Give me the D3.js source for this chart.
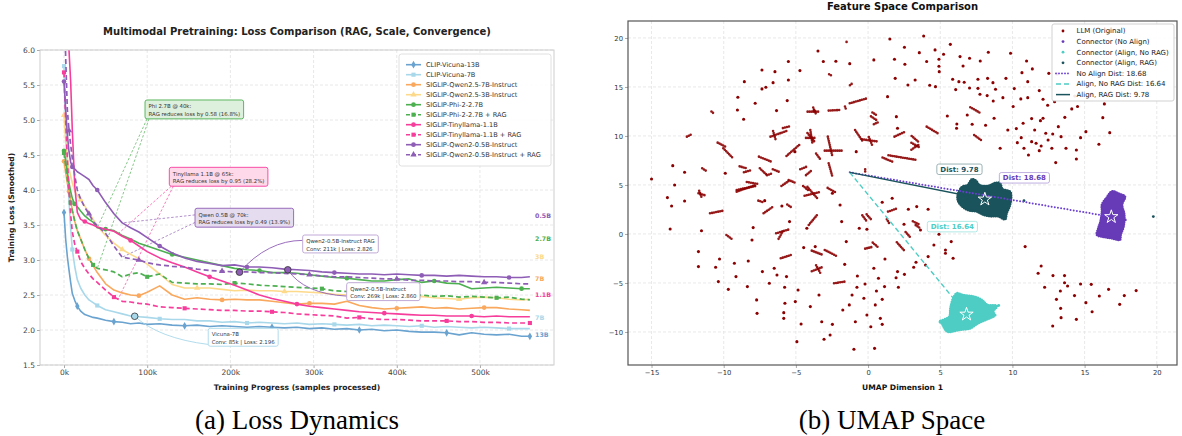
<!DOCTYPE html>
<html><head><meta charset="utf-8">
<script src="https://cdn.jsdelivr.net/npm/d3@7/dist/d3.min.js"></script>
<style>
body{margin:0;background:#fff;}
svg{display:block;font-family:"DejaVu Sans",Verdana,sans-serif;}
</style></head><body>
<svg id="chart" width="1182" height="436" viewBox="0 0 1182 436"></svg>
<script>
// ================= DATA: left panel (loss curves) =================
const kSteps = [0,2,4,6,8,10,13,16,20,25,30,35,40,50,60,70,80,90,100,115,130,145,160,175,190,205,220,235,250,265,280,295,310,325,340,355,370,385,400,415,430,445,460,475,490,505,520,535,550,560];
const vicuna13B = [3.68,3.3,3.05,2.86,2.68,2.52,2.42,2.34,2.27,2.22,2.2,2.18,2.17,2.14,2.12,2.11,2.09,2.1,2.08,2.09,2.07,2.06,2.07,2.05,2.06,2.05,2.04,2.05,2.04,2.03,2.04,2.02,2.03,2.01,2.02,2.0,2.01,1.99,2.0,1.98,1.97,1.97,1.96,1.93,1.96,1.94,1.93,1.94,1.91,1.91];
const vicuna7B = [5.77,4.91,4.3,3.85,3.45,3.15,2.9,2.72,2.6,2.5,2.43,2.39,2.35,2.29,2.26,2.23,2.2,2.19,2.18,2.16,2.15,2.15,2.13,2.13,2.11,2.12,2.1,2.11,2.1,2.09,2.1,2.08,2.09,2.08,2.07,2.08,2.06,2.07,2.06,2.05,2.06,2.04,2.05,2.04,2.03,2.04,2.03,2.02,2.02,2.02];
const qwen25_7B = [4.41,4.25,4.1,3.98,3.85,3.72,3.55,3.42,3.3,3.15,3.02,2.92,2.82,2.66,2.57,2.53,2.5,2.49,2.54,2.63,2.5,2.44,2.46,2.44,2.43,2.44,2.43,2.43,2.41,2.39,2.37,2.38,2.38,2.37,2.41,2.35,2.32,2.3,2.31,2.32,2.33,2.31,2.32,2.3,2.31,2.32,2.32,2.3,2.29,2.28];
const qwen25_3B = [5.07,4.7,4.45,4.3,4.2,4.1,3.98,3.92,3.86,3.77,3.68,3.58,3.48,3.35,3.24,3.15,3.08,3.02,2.94,2.8,2.65,2.6,2.6,2.6,2.58,2.56,2.57,2.56,2.56,2.55,2.55,2.54,2.53,2.51,2.5,2.48,2.47,2.47,2.46,2.47,2.48,2.46,2.45,2.44,2.46,2.47,2.46,2.44,2.43,2.44];
const phi27B = [4.56,4.42,4.25,4.1,3.98,3.88,3.8,3.76,3.7,3.63,3.58,3.54,3.46,3.44,3.42,3.35,3.3,3.24,3.2,3.14,3.08,3.04,3.0,2.96,2.92,2.88,2.86,2.85,2.82,2.82,2.81,2.79,2.77,2.75,2.74,2.72,2.7,2.7,2.72,2.73,2.68,2.7,2.67,2.66,2.59,2.6,2.61,2.6,2.59,2.59];
const phi27B_RAG = [4.53,4.35,4.15,3.98,3.82,3.7,3.55,3.42,3.3,3.15,3.02,2.93,2.88,2.86,2.83,2.76,2.8,2.82,2.76,2.8,2.68,2.67,2.66,2.66,2.65,2.67,2.66,2.64,2.63,2.62,2.61,2.6,2.59,2.56,2.55,2.55,2.53,2.51,2.5,2.49,2.5,2.48,2.49,2.47,2.48,2.47,2.46,2.47,2.44,2.43];
const tiny11B = [7.2,6.8,6.3,6.0,5.55,4.85,4.05,3.68,3.58,3.55,3.52,3.5,3.47,3.44,3.41,3.34,3.28,3.2,3.12,3.03,2.96,2.9,2.83,2.76,2.7,2.64,2.57,2.5,2.45,2.41,2.37,2.34,2.32,2.3,2.28,2.26,2.25,2.24,2.23,2.22,2.21,2.21,2.2,2.2,2.2,2.19,2.2,2.19,2.19,2.19];
const tiny11B_RAG = [5.68,5.0,4.45,4.0,3.65,3.4,3.22,3.12,2.98,2.88,2.8,2.73,2.68,2.57,2.47,2.41,2.4,2.38,2.37,2.33,2.32,2.31,2.3,2.29,2.28,2.28,2.27,2.27,2.26,2.25,2.23,2.22,2.21,2.2,2.17,2.18,2.16,2.15,2.15,2.14,2.13,2.13,2.13,2.12,2.12,2.11,2.11,2.1,2.1,2.1];
const qwen2_05B = [5.55,5.15,4.8,4.55,4.4,4.33,4.3,4.26,4.23,4.19,4.15,4.06,4.0,3.82,3.66,3.53,3.46,3.4,3.32,3.2,3.1,3.03,2.98,2.95,2.92,2.93,2.9,2.9,2.89,2.87,2.86,2.85,2.83,2.82,2.81,2.8,2.8,2.79,2.8,2.79,2.78,2.78,2.77,2.78,2.77,2.76,2.76,2.75,2.75,2.76];
const qwen2_05B_RAG = [6.9,5.9,5.15,4.85,4.65,4.45,4.2,4.0,3.87,3.75,3.66,3.55,3.49,3.38,3.2,3.04,3.02,3.0,2.96,2.93,2.91,2.9,2.87,2.85,2.84,2.83,2.83,2.82,2.82,2.81,2.8,2.79,2.77,2.76,2.76,2.75,2.74,2.73,2.73,2.71,2.71,2.7,2.7,2.69,2.69,2.68,2.68,2.67,2.66,2.66];
const seriesNames = ["CLIP-Vicuna-13B","CLIP-Vicuna-7B","SIGLIP-Qwen2.5-7B-Instruct","SIGLIP-Qwen2.5-3B-Instruct","SIGLIP-Phi-2-2.7B","SIGLIP-Phi-2-2.7B + RAG","SIGLIP-Tinyllama-1.1B","SIGLIP-Tinyllama-1.1B + RAG","SIGLIP-Qwen2-0.5B-Instruct","SIGLIP-Qwen2-0.5B-Instruct + RAG"];
const seriesValues = [vicuna13B,vicuna7B,qwen25_7B,qwen25_3B,phi27B,phi27B_RAG,tiny11B,tiny11B_RAG,qwen2_05B,qwen2_05B_RAG];
const endLabels = ["0.5B","2.7B","3B","7B","1.1B","7B","13B"];
const endLabelValues = [3.63,3.31,3.04,2.73,2.5,2.17,1.93];
const endLabelSeries = [8,4,3,2,6,1,0];
const xTickValues = [0,100,200,300,400,500];
const yTickValues = [1.5,2.0,2.5,3.0,3.5,4.0,4.5,5.0,5.5,6.0];
const gapTitles = ["Phi 2.7B @ 40k:","Tinyllama 1.1B @ 65k:","Qwen 0.5B @ 70k:"];
const gapTexts = ["RAG reduces loss by 0.58 (16.8%)","RAG reduces loss by 0.95 (28.2%)","RAG reduces loss by 0.49 (13.9%)"];
const gapSteps = [40,65,70];
const gapBase = [3.46,3.375,3.53];
const gapRag = [2.88,2.44,3.04];
const gapSeries = [4,6,8];
const convNames = ["Qwen2-0.5B-Instruct RAG","Qwen2-0.5B-Instruct","Vicuna-7B"];
const convSteps = [211,269,85];
const convLoss = [2.826,2.860,2.196];
const convSeries = [9,8,1];

// ================= DATA: right panel (UMAP) =================
const llmPoints = [[3.85,20.2],[1.51,19.9],[5.7,19.35],[2.52,19.05],[-3.47,18.67],[4.64,18.78],[3.55,18.5],[5.23,18.33],[8.33,18.54],[9.87,18.44],[6.37,18.1],[7.03,17.93],[4.91,17.82],[4.06,17.59],[1.83,17.82],[-5.52,17.59],[-3.1,17.59],[-2.23,17.62],[-1.27,17.38],[0.4,17.76],[2.55,17.31],[7.77,17.65],[10.98,17.65],[10.66,16.46],[4.91,17.11],[6.58,17.14],[4.93,16.56],[-4.72,16.67],[-6.45,16.56],[-7.35,16.73],[1.88,15.88],[3.26,15.71],[2.76,15.2],[4.27,15.17],[4.67,15.03],[5.86,15.78],[6.29,15.54],[6.66,15.48],[7.61,15.78],[8.28,15.88],[8.65,15.44],[9.55,15.88],[10.13,14.83],[11.06,15.54],[11.86,14.63],[12.52,16.39],[13.1,16.33],[11.38,16.84],[7.03,14.9],[6.07,14.73],[7.61,14.86],[8.83,14.76],[7.75,14.25],[8.25,14.12],[9.34,13.91],[8.67,13.57],[10.05,13.0],[10.58,13.78],[11.06,13.91],[12.12,13.74],[12.44,13.13],[12.92,13.5],[14.32,14.08],[14.51,13.0],[14.11,12.76],[15.49,14.29],[16.37,13.27],[15.09,10.44],[16.26,11.87],[15.99,9.15],[16.74,10.34],[13.63,11.9],[12.12,11.8],[11.33,11.77],[10.74,11.29],[11.94,11.56],[13.18,10.95],[12.79,10.2],[12.31,10.27],[11.54,10.61],[10.61,9.83],[11.33,9.42],[10.34,9.32],[10.8,8.74],[11.64,9.25],[11.99,8.98],[12.47,9.59],[13.37,9.93],[12.73,8.74],[13.71,8.74],[13.0,7.28],[14.43,8.57],[14.72,9.83],[14.43,7.65],[11.11,8.06],[11.86,8.5],[10.27,10.75],[9.68,10.61],[9.15,8.74],[8.14,11.09],[8.73,11.8],[7.21,11.19],[6.87,12.14],[6.13,10.78],[5.49,12.04],[6.15,11.22],[1.96,11.97],[1.35,14.01],[2.04,10.78],[-0.82,8.4],[-15.0,5.61],[-13.53,6.97],[-13.4,5.0],[-12.71,6.29],[-9.02,13.95],[-9.05,12.65],[-8.57,15.54],[-8.62,11.7],[-7.82,13.33],[-7.35,14.8],[-7.08,14.97],[-6.58,15.44],[-6.34,12.59],[-5.52,15.71],[-5.6,13.61],[-9.89,6.19],[-5.07,8.4],[-3.74,12.6],
[-13.9,3.71],[-13.61,2.86],[-12.71,3.37],[-13.71,0.51],[-11.54,0.33],[-11.75,-1.8],[-11.75,-3.33],[-10.56,-3.4],[-10.29,-2.55],[-10.37,-4.86],[-9.68,-5.65],[-9.26,-2.99],[-9.15,-4.35],[-7.96,0.65],[-8.04,-0.61],[-8.3,-2.76],[-8.36,-5.37],[-7.69,-8.1],[-7.72,-6.73],[-7.32,-3.84],[-7.16,3.4],[-6.84,-5.03],[-6.5,-3.5],[-6.31,-4.18],[-5.97,2.86],[-5.76,-7.07],[-5.84,-8.03],[-5.84,-8.61],[-5.78,-5.44],[-5.65,-4.35],[-5.44,1.26],[-5.04,-6.9],[-4.93,-10.99],[-4.85,-5.71],[-4.64,-9.18],[-4.0,-7.41],[-4.46,-1.39],[-4.24,0.58],[-3.66,-1.29],[-3.4,-6.22],[-3.21,-8.95],[-3.05,-10.75],[-2.63,-10.31],[-2.47,4.15],[-2.47,-9.22],[-1.94,2.96],[-1.83,1.26],[-1.75,-7.76],[-1.62,-3.1],[-1.51,-0.78],[-1.3,-7.24],[-1.11,-6.22],[-0.98,-11.77],[-0.88,-8.95],[-0.77,-5.44],[-0.74,-4.29],[-0.61,0.58],[-0.29,-6.56],[-0.21,-5.1],[-0.08,0.48],[-0.08,-8.27],[0.19,-9.46],[0.4,-3.5],[0.5,-7.24],[0.58,-5.82],[0.45,-11.67],[0.72,-4.52],[0.85,-8.61],[0.98,-9.22],[0.98,-6.67],[1.14,-5.37],[1.17,-2.55],[0.98,3.23],[1.67,3.64],[1.94,-4.46],[2.04,-3.84],[2.1,-5.44],[2.49,0.99],[2.52,-4.12],[2.79,2.52],[3.16,-3.4],[3.32,-2.89],[3.37,2.79],[3.63,0.41],[3.98,-3.16],[4.16,2.52],[4.56,-1.12],[4.16,-2.31],[5.36,-1.63],[5.36,-1.97],[5.76,-0.78],[5.89,-2.48],[4.91,-0.03],[10.88,-1.29],[11.78,-4.01],[11.99,-3.27],[12.23,-5.44],[12.81,-4.25],[13.05,-6.67],[13.32,-5.82],[13.34,-7.59],[13.37,-8.54],[12.79,-9.39],[13.61,-4.25],[13.61,-4.97],[13.82,-5.31],[14.3,-6.29],[14.43,-8.71],[14.72,-5.1],[15.09,-7.01],[15.46,-5.14],[15.52,-7.93],[16.02,-6.33],[16.66,-5.65],[17.43,-7.18],[17.75,-6.29],[18.57,-5.78]];
const llmStrands = [[-1.49,19.6,-1.59,19.75],[-2.7,16.3,-2.45,16.1],[-1.14,15.31,-1.33,15.1],[7.08,12.93,7.82,12.31],[7.35,10.1,7.88,9.52],[4.06,10.95,4.83,10.27],[3.02,10.0,3.55,9.32],[3.0,9.3,3.6,8.8],[3.0,8.6,3.5,9.1],[1.41,8.03,3.37,7.55],[1.0,7.8,1.8,7.3],[1.83,9.93,2.57,10.44],[0.05,9.9,0.3,9.0],[-0.42,9.66,0.72,9.42],[0.4,11.2,0.7,11.4],[0.3,12.4,0.6,12.1],[-0.2,6.6,-0.2,6.3],[-12.55,9.93,-12.23,10.17],[-10.85,12.5,-10.7,12.3],[-10.42,9.32,-9.89,8.91],[-10.03,8.74,-9.42,7.82],[-11.49,6.7,-11.14,6.36],[-9.1,4.32,-7.77,5.0],[-7.56,7.89,-6.71,7.38],[-7.5,6.7,-7.0,6.0],[-7.0,6.0,-6.6,6.2],[-6.6,6.6,-6.1,6.3],[-6.58,10.5,-6.4,9.6],[-6.76,9.93,-5.65,10.51],[-5.9,10.8,-5.4,11.0],[-5.65,7.96,-4.72,9.15],[-4.3,9.8,-3.6,9.8],[-4.0,10.6,-3.85,9.2],[-4.2,10.3,-3.7,9.4],[-3.6,8.2,-3.3,7.6],[-2.79,9.93,-2.47,7.89],[-3.0,8.5,-1.7,8.5],[-2.73,7.21,-2.47,5.85],[-4.19,12.48,-3.4,12.48],[-3.8,12.9,-3.6,12.2],[-2.73,12.59,-1.94,12.65],[-1.6,13.0,-1.5,12.6],[-1.27,13.33,-0.08,13.84],[0.2,12.0,0.6,11.6],[-0.9,10.6,-0.4,9.5],[-4.7,6.6,-4.2,6.9],[-5.5,5.5,-5.0,5.2],[-4.3,6.0,-3.9,6.5],[-8.9,6.9,-8.4,6.7],[-8.6,6.3,-8.1,6.5],[-6.0,4.9,-5.4,5.5],
[-11.75,4.15,-11.22,3.91],[-11.7,4.4,-11.5,3.6],[-10.95,2.11,-10.03,2.38],[-9.81,-0.1,-9.42,-0.54],[-9.1,4.49,-7.77,4.9],[-8.4,5.3,-7.6,5.1],[-7.6,3.4,-7.2,3.2],[-7.24,2.11,-6.58,2.79],[-6.37,0.07,-5.44,0.48],[-6.2,-0.5,-5.9,0.3],[-6.05,-2.48,-5.33,-2.14],[-5.6,3.0,-5.3,2.7],[-4.5,4.9,-4.1,4.4],[-4.4,3.9,-3.3,4.3],[-4.2,4.8,-3.5,3.6],[-4.11,0.92,-3.47,2.04],[-3.9,-1.7,-3.2,-2.1],[-3.6,-3.2,-3.3,-4.0],[-3.9,-3.8,-3.2,-3.4],[-3.0,-1.63,-2.2,-2.24],[-2.36,-5.03,-1.62,-4.86],[-2.8,4.7,-2.2,4.2],[-0.4,1.9,-0.1,1.3],[-0.1,2.0,0.2,1.5],[0.32,-0.88,0.72,-1.39],[-0.2,-1.5,0.35,-1.3],[1.38,2.28,2.04,2.62],[1.3,1.5,1.5,1.0],[1.99,-0.85,2.57,-1.8],[2.6,0.2,2.9,-0.3],[3.1,1.3,3.5,1.0],[3.3,0.9,3.6,0.6]];
const alignRagOutline = [[6.5,4.8],[6.9,5.0],[7.2,5.6],[7.5,5.4],[7.7,5.0],[8.3,4.9],[8.8,5.2],[9.15,5.2],[9.3,4.6],[9.85,4.3],[9.9,3.5],[9.8,2.8],[9.6,2.1],[9.5,1.5],[9.0,1.8],[8.5,1.8],[8.0,1.95],[7.5,2.3],[7.0,2.4],[6.6,2.7],[6.25,3.3],[6.2,3.9]];
const alignNoRagOutline = [[6.15,-6.05],[6.55,-6.22],[7.35,-6.39],[7.88,-6.73],[8.28,-7.24],[8.94,-7.35],[8.67,-7.93],[8.81,-8.27],[8.14,-8.78],[7.61,-9.12],[7.08,-9.63],[6.29,-9.8],[5.49,-9.97],[5.09,-9.12],[4.96,-8.95],[5.62,-8.44],[5.7,-7.59],[5.89,-6.56]];
const noAlignOutline = [[16.9,4.35],[17.4,4.1],[17.8,3.8],[17.6,3.0],[17.75,2.0],[17.7,0.75],[17.5,-0.1],[17.45,-0.6],[16.9,-0.45],[16.3,-0.3],[15.85,-0.1],[15.95,0.6],[16.1,1.3],[16.2,2.3],[16.2,3.0],[16.5,3.65]];
const alignRagExtra = [[10.8,3.4],[19.76,1.77]];
const noAlignExtra = [[17.82,1.43]];
const alignNoRagExtra = [[5.0,-8.9],[9.05,-7.3],[6.1,-7.0]];
const llmCentroid = [-1.27,6.29];
const clusterCentroids = [[16.85,1.75],[6.82,-8.2],[8.09,3.54]]; // No Align, Align No RAG, Align RAG
const distValues = [18.68,16.64,9.78];
const umapLegend = ["LLM (Original)","Connector (No Align)","Connector (Align, No RAG)","Connector (Align, RAG)","No Align Dist: 18.68","Align, No RAG Dist: 16.64","Align, RAG Dist: 9.78"];
const umapXTicks = [-15,-10,-5,0,5,10,15,20];
const umapYTicks = [-10,-5,0,5,10,15,20];

// ================= STYLES / LAYOUT =================
const colors = ["#6aa3cf","#a8d8ea","#f9a85d","#fdd98b","#4caf50","#4caf50","#f63d9c","#f63d9c","#8e5db5","#8e5db5"];
const dashed = [false,false,false,false,false,true,false,true,false,true];
const symbols = [d3.symbolDiamond,d3.symbolSquare,d3.symbolCircle,d3.symbolTriangle,d3.symbolCircle,d3.symbolSquare,d3.symbolCircle,d3.symbolSquare,d3.symbolCircle,d3.symbolTriangle];
const FONT = "DejaVu Sans";
const svg = d3.select("#chart");

// ---------- LEFT PANEL ----------
const PL = {l:40, r:554, t:50, b:365};
const xL = d3.scaleLinear().domain([-28.85,589]).range([PL.l,PL.r]);
const yL = d3.scaleLinear().domain([1.5,6]).range([PL.b,PL.t]);
const left = svg.append("g");
svg.append("defs").append("clipPath").attr("id","clipL").append("rect")
  .attr("x",PL.l).attr("y",PL.t).attr("width",PL.r-PL.l).attr("height",PL.b-PL.t);

left.append("g").selectAll("line").data(xTickValues).join("line")
  .attr("x1",d=>xL(d)).attr("x2",d=>xL(d)).attr("y1",PL.t).attr("y2",PL.b)
  .attr("stroke","#e2e2e2").attr("stroke-width",0.8).attr("stroke-dasharray","3,2");
left.append("g").selectAll("line").data(yTickValues).join("line")
  .attr("y1",d=>yL(d)).attr("y2",d=>yL(d)).attr("x1",PL.l).attr("x2",PL.r)
  .attr("stroke","#e2e2e2").attr("stroke-width",0.8).attr("stroke-dasharray","3,2");

function styleAxis(g,fs,col){
  g.attr("font-family",FONT).attr("font-size",fs);
  g.select(".domain").remove();
  g.selectAll(".tick line").attr("stroke","#aaa");
  g.selectAll(".tick text").attr("fill",col);
}
left.append("g").attr("transform",`translate(0,${PL.b})`)
  .call(d3.axisBottom(xL).tickValues(xTickValues).tickFormat(d=>d+"k").tickSize(3).tickPadding(2))
  .call(g=>styleAxis(g,7.5,"#444"));
left.append("g").attr("transform",`translate(${PL.l},0)`)
  .call(d3.axisLeft(yL).tickValues(yTickValues).tickFormat(d3.format(".1f")).tickSize(3).tickPadding(2))
  .call(g=>styleAxis(g,7.5,"#444"));

const gapLayout = [{bx:97.4,bv:5.286},{bx:126.6,bv:4.324},{bx:157.5,bv:3.739}];
const noteFont = 5.4, noteLH = 7.7;
const gapG = left.append("g");
function measure(txt,fs,weight){
  const t = svg.append("text").attr("font-family",FONT).attr("font-size",fs).attr("font-weight",weight||"normal").text(txt);
  const w = t.node().getComputedTextLength(); t.remove(); return w;
}
const lineFn = d3.line().x((d,i)=>xL(kSteps[i])).y(d=>yL(d));
const linesG = left.append("g").attr("clip-path","url(#clipL)");

gapTitles.forEach((title,i)=>{
  const c = colors[gapSeries[i]];
  const bx = xL(gapLayout[i].bx), by = yL(gapLayout[i].bv);
  const w = Math.max(measure(title,noteFont),measure(gapTexts[i],noteFont)) + 7;
  const h = 2*noteLH + 3.5;
  const sx = i<2 ? bx+2 : bx, sy = i<2 ? by+h : by+h*0.35;
  const sy2 = i<2 ? by+h : by+h*0.75;
  [[gapBase[i],sx,sy],[gapRag[i],sx+(i<2?2:0),sy2]].forEach(([v,x0,y0])=>{
    gapG.append("line").attr("x1",x0).attr("y1",y0).attr("x2",xL(gapSteps[i])).attr("y2",yL(v))
      .attr("stroke",c).attr("stroke-width",0.8).attr("stroke-dasharray","2.5,1.8").attr("opacity",0.85);
  });
  gapLayout[i].w=w; gapLayout[i].h=h;
});

seriesValues.forEach((vals,s)=>{
  linesG.append("path").datum(vals).attr("d",lineFn).attr("fill","none")
    .attr("stroke",colors[s]).attr("stroke-width",dashed[s]?1.7:1.6)
    .attr("stroke-dasharray",dashed[s]?"5,3":null).attr("stroke-linejoin","round");
  const marks = vals.map((v,i)=>[i,v]).filter(([i])=> i===0 || (i>2 && (i+s*2)%7===0));
  linesG.selectAll(null).data(marks).join("path")
    .attr("transform",([i,v])=>`translate(${xL(kSteps[i])},${yL(v)})`)
    .attr("d",d3.symbol().type(symbols[s]).size(17)).attr("fill",colors[s]);
});

const gapFill = ["#dcf0dd","#fdd9ea","#e6dcef"];
gapTitles.forEach((title,i)=>{
  const c = colors[gapSeries[i]];
  const bx = xL(gapLayout[i].bx), by = yL(gapLayout[i].bv);
  const g = left.append("g");
  g.append("rect").attr("x",bx).attr("y",by).attr("width",gapLayout[i].w).attr("height",gapLayout[i].h)
    .attr("rx",2).attr("fill",gapFill[i]).attr("stroke",c).attr("stroke-width",0.9);
  [title,gapTexts[i]].forEach((t,j)=>{
    g.append("text").attr("x",bx+3.5).attr("y",by+2+noteLH*(j+1)-1.4).attr("font-size",noteFont)
      .attr("font-family",FONT).attr("fill","#333").text(t);
  });
});

const convLayout = [{bx:286.9,bv:3.357},{bx:339.8,bv:2.676},{bx:173.4,bv:2.024}];
const convBorder = ["#b9a0d2","#b9a0d2","#a8d8ea"];
convNames.forEach((name,i)=>{
  const c = colors[convSeries[i]];
  const px = xL(convSteps[i]), py = yL(convLoss[i]);
  const t2 = `Conv: ${convSteps[i]}k | Loss: ${convLoss[i].toFixed(3)}`;
  const w = Math.max(measure(name,noteFont),measure(t2,noteFont)) + 7;
  const h = 2*noteLH + 2.5;
  const bx = xL(convLayout[i].bx), by = yL(convLayout[i].bv);
  const p = d3.path();
  if(i===0){ p.moveTo(bx,by+h*0.3); p.quadraticCurveTo(bx-35,by+h*0.3,px,py); }
  else if(i===1){ p.moveTo(px,py); p.quadraticCurveTo(px+16,py+24,bx,by+h*0.75); }
  else { p.moveTo(px,py); p.quadraticCurveTo(px+24,py+22,bx,by+h*0.9); }
  left.append("path").attr("d",p.toString()).attr("fill","none").attr("stroke",c).attr("stroke-width",0.9);
  left.append("circle").attr("cx",px).attr("cy",py).attr("r",3.3).attr("fill",c).attr("stroke","#333").attr("stroke-width",0.8);
  left.append("rect").attr("x",bx).attr("y",by).attr("width",w).attr("height",h).attr("rx",2)
    .attr("fill","#fff").attr("stroke",convBorder[i]).attr("stroke-width",0.9);
  [name,t2].forEach((t,j)=>{
    left.append("text").attr("x",bx+3.5).attr("y",by+2+noteLH*(j+1)-1.6).attr("font-size",noteFont)
      .attr("font-family",FONT).attr("fill","#333").text(t);
  });
});

left.append("g").selectAll("text").data(endLabels).join("text")
  .attr("x",535).attr("y",(d,i)=>yL(endLabelValues[i])+2.2)
  .attr("font-size",6.3).attr("font-weight","bold").attr("font-family",FONT)
  .attr("fill",(d,i)=>colors[endLabelSeries[i]]).text(d=>d);

left.append("rect").attr("x",PL.l).attr("y",PL.t).attr("width",PL.r-PL.l).attr("height",PL.b-PL.t)
  .attr("fill","none").attr("stroke","#c8c8c8").attr("stroke-width",0.9);

const lg = left.append("g");
lg.append("rect").attr("x",399).attr("y",54).attr("width",152).attr("height",112).attr("rx",2.5)
  .attr("fill","#fff").attr("fill-opacity",0.9).attr("stroke","#ddd").attr("stroke-width",0.9);
seriesNames.forEach((n,i)=>{
  const y = 64.7 + i*10;
  lg.append("line").attr("x1",406).attr("x2",421).attr("y1",y).attr("y2",y).attr("stroke",colors[i])
    .attr("stroke-width",1.6).attr("stroke-dasharray",dashed[i]?"4,2":null);
  lg.append("path").attr("transform",`translate(413.5,${y})`).attr("d",d3.symbol().type(symbols[i]).size(17)).attr("fill",colors[i]);
  lg.append("text").attr("x",426).attr("y",y+2.3).attr("font-size",6.6).attr("font-family",FONT).attr("fill","#333").text(n);
});

left.append("text").attr("x",297).attr("y",35).attr("text-anchor","middle").attr("font-size",10)
  .attr("font-weight","bold").attr("font-family",FONT).attr("fill","#222")
  .text("Multimodal Pretraining: Loss Comparison (RAG, Scale, Convergence)");
left.append("text").attr("x",297).attr("y",390).attr("text-anchor","middle").attr("font-size",7.6)
  .attr("font-weight","bold").attr("font-family",FONT).attr("fill","#222").text("Training Progress (samples processed)");
left.append("text").attr("transform","translate(14,207.5) rotate(-90)").attr("text-anchor","middle").attr("font-size",7.6)
  .attr("font-weight","bold").attr("font-family",FONT).attr("fill","#222").text("Training Loss (Smoothed)");

// ---------- RIGHT PANEL ----------
const PR = {l:628, r:1177, t:21, b:365};
const xR = d3.scaleLinear().domain([-16.63,21.4]).range([PR.l,PR.r]);
const yR = d3.scaleLinear().domain([-13.37,21.73]).range([PR.b,PR.t]);
const right = svg.append("g");
svg.select("defs").append("clipPath").attr("id","clipR").append("rect")
  .attr("x",PR.l).attr("y",PR.t).attr("width",PR.r-PR.l).attr("height",PR.b-PR.t);
right.append("g").selectAll("line").data(umapXTicks).join("line")
  .attr("x1",d=>xR(d)).attr("x2",d=>xR(d)).attr("y1",PR.t).attr("y2",PR.b)
  .attr("stroke","#e2e2e2").attr("stroke-width",0.8).attr("stroke-dasharray","3,2");
right.append("g").selectAll("line").data(umapYTicks).join("line")
  .attr("y1",d=>yR(d)).attr("y2",d=>yR(d)).attr("x1",PR.l).attr("x2",PR.r)
  .attr("stroke","#e2e2e2").attr("stroke-width",0.8).attr("stroke-dasharray","3,2");
const fmtMinus = d=> d<0 ? "\u2212"+Math.abs(d) : String(d);
right.append("g").attr("transform",`translate(0,${PR.b})`)
  .call(d3.axisBottom(xR).tickValues(umapXTicks).tickFormat(fmtMinus).tickSize(3).tickPadding(2))
  .call(g=>styleAxis(g,6.8,"#333"));
right.append("g").attr("transform",`translate(${PR.l},0)`)
  .call(d3.axisLeft(yR).tickValues(umapYTicks).tickFormat(fmtMinus).tickSize(3).tickPadding(2))
  .call(g=>styleAxis(g,6.8,"#333"));

const RC = {llm:"#8b0000", noAlign:"#673ab7", alignNoRag:"#4ecdc4", alignRag:"#1a535c"};
const sc = right.append("g").attr("clip-path","url(#clipR)");
sc.selectAll(".ls").data(llmStrands).join("line").attr("class","ls")
  .attr("x1",d=>xR(d[0])).attr("y1",d=>yR(d[1])).attr("x2",d=>xR(d[2])).attr("y2",d=>yR(d[3]))
  .attr("stroke",RC.llm).attr("stroke-width",2.6).attr("stroke-linecap","round")
  .attr("stroke-dasharray","0,2.1").attr("opacity",0.9);
sc.selectAll(".lp").data(llmPoints).join("circle").attr("class","lp")
  .attr("cx",d=>xR(d[0])).attr("cy",d=>yR(d[1])).attr("r",1.55).attr("fill",RC.llm);

const blobLine = d3.line().x(d=>xR(d[0])).y(d=>yR(d[1])).curve(d3.curveCatmullRomClosed.alpha(0.5));
[[alignNoRagOutline,RC.alignNoRag,alignNoRagExtra],[alignRagOutline,RC.alignRag,alignRagExtra],[noAlignOutline,RC.noAlign,noAlignExtra]].forEach(([o,c,ex])=>{
  sc.append("path").attr("d",blobLine(o)).attr("fill",c).attr("stroke",c).attr("stroke-width",1);
  sc.append("path").attr("d",blobLine(o)).attr("fill","none").attr("stroke",c).attr("stroke-width",2.6)
    .attr("stroke-dasharray","0,2.2").attr("stroke-linecap","round");
  sc.selectAll(null).data(ex).join("circle").attr("cx",d=>xR(d[0])).attr("cy",d=>yR(d[1])).attr("r",1.4).attr("fill",c);
});

const distColors = [RC.noAlign, RC.alignNoRag, RC.alignRag];
const distLineColors = ["#6b3fd4", RC.alignNoRag, RC.alignRag];
const distDash = ["0,3.2","5,3",null];
clusterCentroids.forEach((cc,i)=>{
  sc.append("line").attr("x1",xR(llmCentroid[0])).attr("y1",yR(llmCentroid[1]))
    .attr("x2",xR(cc[0])).attr("y2",yR(cc[1])).attr("stroke",distLineColors[i])
    .attr("stroke-width",i===0?2.0:1.4).attr("stroke-dasharray",distDash[i]).attr("stroke-linecap",i===0?"round":"butt");
});
clusterCentroids.forEach(cc=>{
  sc.append("path").attr("transform",`translate(${xR(cc[0])},${yR(cc[1])})`)
    .attr("d",d3.symbol().type(d3.symbolStar).size(55)).attr("fill","none").attr("stroke","#fff").attr("stroke-width",1);
});
const distLabelPos = [[10.83,5.73],[5.84,0.75],[6.33,6.6]];
const distBorder = ["#b8a6de","#a6e6e1","#8fa9ad"];
distValues.forEach((v,i)=>{
  const txt = `Dist: ${v.toFixed(2)}`;
  const w = measure(txt,7,"bold")+7, h=10.5;
  const cx = xR(distLabelPos[i][0]), cy = yR(distLabelPos[i][1]);
  right.append("rect").attr("x",cx-w/2).attr("y",cy-h/2).attr("width",w).attr("height",h).attr("rx",2)
    .attr("fill","#fff").attr("fill-opacity",0.9).attr("stroke",distBorder[i]).attr("stroke-width",0.9);
  right.append("text").attr("x",cx).attr("y",cy+2.5).attr("text-anchor","middle").attr("font-size",7)
    .attr("font-weight","bold").attr("font-family",FONT).attr("fill",distColors[i]).text(txt);
});
right.append("rect").attr("x",PR.l).attr("y",PR.t).attr("width",PR.r-PR.l).attr("height",PR.b-PR.t)
  .attr("fill","none").attr("stroke","#555").attr("stroke-width",1.2);

const rl = right.append("g");
rl.append("rect").attr("x",1052).attr("y",24).attr("width",122).attr("height",77).attr("rx",2)
  .attr("fill","#fff").attr("fill-opacity",0.9).attr("stroke","#ccc").attr("stroke-width",0.9);
const legColors = [RC.llm,RC.noAlign,RC.alignNoRag,RC.alignRag,"#6b3fd4",RC.alignNoRag,RC.alignRag];
umapLegend.forEach((t,i)=>{
  const y = 31 + i*10.6;
  if(i<4){ rl.append("circle").attr("cx",1063).attr("cy",y).attr("r",1.4).attr("fill",legColors[i]); }
  else { rl.append("line").attr("x1",1056).attr("x2",1070).attr("y1",y).attr("y2",y).attr("stroke",legColors[i])
    .attr("stroke-width",i===4?1.9:1.5).attr("stroke-dasharray",i===4?"0,3":distDash[i-4]).attr("stroke-linecap",i===4?"round":"butt"); }
  rl.append("text").attr("x",1076.5).attr("y",y+2.4).attr("font-size",7).attr("font-family",FONT).attr("fill","#222").text(t);
});
right.append("text").attr("x",(PR.l+PR.r)/2).attr("y",10).attr("text-anchor","middle").attr("font-size",10)
  .attr("font-weight","bold").attr("font-family",FONT).attr("fill","#111").text("Feature Space Comparison");
right.append("text").attr("x",(PR.l+PR.r)/2).attr("y",390).attr("text-anchor","middle").attr("font-size",7.6)
  .attr("font-weight","bold").attr("font-family",FONT).attr("fill","#111").text("UMAP Dimension 1");

svg.append("text").attr("x",297).attr("y",429).attr("text-anchor","middle").attr("font-size",27)
  .attr("font-family","'Liberation Serif','Times New Roman',serif").attr("fill","#000").text("(a) Loss Dynamics");
svg.append("text").attr("x",892).attr("y",429).attr("text-anchor","middle").attr("font-size",27)
  .attr("font-family","'Liberation Serif','Times New Roman',serif").attr("fill","#000").text("(b) UMAP Space");
</script></body></html>
